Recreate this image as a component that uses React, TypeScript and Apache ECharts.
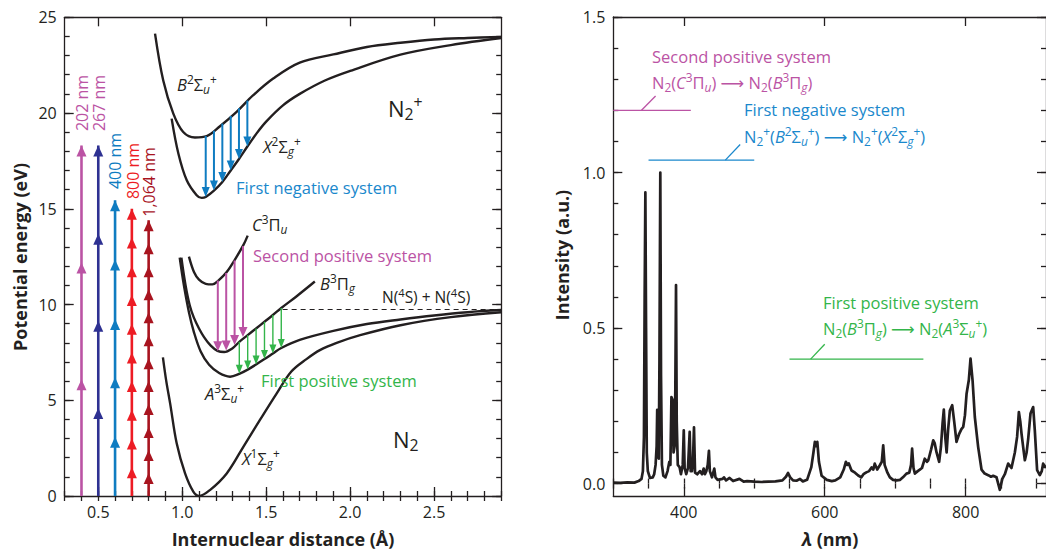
import React, { useEffect, useRef } from 'react';
import * as echarts from 'echarts';

// ---------------- style constants ----------------
const FONT = "'Open Sans', 'Noto Sans', 'DejaVu Sans', sans-serif";
const INK = '#231f20';
const MAG = '#bb53a4';
const NAVY = '#2e3192';
const BLUE = '#0f7cc1';
const TBLUE = '#1a88cc';
const RED = '#ed1c24';
const DRED = '#a8141f';
const GREEN = '#33b54a';

// ---------------- left panel: axes ----------------
const leftXMin = 0.3;
const leftXMax = 2.9;
const leftYMin = 0;
const leftYMax = 25;
const leftXTicks = [0.5, 1.0, 1.5, 2.0, 2.5];
const leftYTicks = [0, 5, 10, 15, 20, 25];

// ---------------- left panel: potential curves (r in Å, E in eV) ----------------
const n2X1_r = [0.885, 0.905, 0.928, 0.967, 1.017, 1.066, 1.1, 1.165, 1.265, 1.364, 1.463, 1.563, 1.65, 1.74, 1.82, 1.92, 2.06, 2.3, 2.6, 2.9];
const n2X1_E = [7.24, 6.0, 4.84, 2.75, 1.18, 0.23, 0.0, 0.31, 1.18, 2.57, 3.97, 5.36, 6.5, 7.15, 7.62, 8.0, 8.4, 8.92, 9.34, 9.6];

const n2A3_r = [0.985, 1.01, 1.04, 1.07, 1.11, 1.16, 1.22, 1.285, 1.34, 1.39, 1.44, 1.49, 1.54, 1.59, 1.7, 1.9, 2.1, 2.3, 2.5, 2.7, 2.9];
const n2A3_E = [12.45, 11.0, 9.6, 8.55, 7.55, 6.85, 6.42, 6.23, 6.38, 6.6, 6.87, 7.15, 7.44, 7.73, 8.15, 8.62, 8.98, 9.22, 9.43, 9.6, 9.71];

const n2B3_r = [0.995, 1.02, 1.045, 1.07, 1.1, 1.13, 1.17, 1.21, 1.25, 1.3, 1.34, 1.39, 1.44, 1.49, 1.54, 1.59, 1.68, 1.79];
const n2B3_E = [12.45, 11.0, 9.95, 9.3, 8.75, 8.3, 7.85, 7.58, 7.52, 7.72, 8.05, 8.4, 8.75, 9.1, 9.45, 9.82, 10.42, 11.2];

const n2C3_r = [1.04, 1.07, 1.1, 1.14, 1.18, 1.215, 1.265, 1.314, 1.364, 1.39];
const n2C3_E = [12.5, 11.7, 11.3, 11.08, 11.05, 11.25, 11.7, 12.35, 13.1, 13.6];

const ionX2_r = [0.937, 0.977, 1.027, 1.086, 1.116, 1.14, 1.189, 1.239, 1.289, 1.338, 1.388, 1.44, 1.5, 1.6, 1.7, 1.85, 2.0, 2.3, 2.6, 2.9];
const ionX2_E = [19.71, 17.89, 16.49, 15.71, 15.57, 15.62, 15.95, 16.4, 17.0, 17.6, 18.25, 18.9, 19.55, 20.4, 21.0, 21.7, 22.2, 23.05, 23.55, 23.92];

const ionB2_r = [0.838, 0.887, 0.947, 1.006, 1.076, 1.146, 1.225, 1.324, 1.423, 1.542, 1.7, 1.9, 2.1, 2.3, 2.5, 2.7, 2.9];
const ionB2_E = [24.15, 21.7, 19.97, 19.01, 18.72, 18.79, 19.31, 20.06, 20.93, 21.8, 22.63, 23.06, 23.45, 23.67, 23.84, 23.92, 23.98];

const dissociationE = 9.74;
const dissociationFrom = 1.598;

// ---------------- left panel: multiphoton ladders ----------------
const ladderX = [0.4, 0.5, 0.6, 0.7, 0.8];
const ladderNames = ['202 nm', '267 nm', '400 nm', '800 nm', '1,064 nm'];
const ladder202 = [6.1, 12.2, 18.3];
const ladder267 = [4.6, 9.15, 13.7, 18.3];
const ladder400 = [3.1, 6.2, 9.25, 12.35, 15.45];
const ladder800 = [1.5, 3.0, 4.5, 6.0, 7.5, 9.0, 10.5, 12.0, 13.5, 15.0];
const ladder1064 = [1.2, 2.4, 3.6, 4.8, 6.0, 7.2, 8.4, 9.6, 10.8, 12.0, 13.2, 14.4];

// ---------------- left panel: emission transitions ----------------
const fnsX = [1.14, 1.189, 1.239, 1.289, 1.338, 1.388];
const fnsFrom = [18.8, 19.08, 19.45, 19.85, 20.25, 20.65];
const fnsTo = [15.62, 15.95, 16.4, 17.0, 17.6, 18.25];

const spsX = [1.212, 1.262, 1.312, 1.362];
const spsFrom = [11.25, 11.65, 12.3, 13.05];
const spsTo = [7.56, 7.6, 7.88, 8.3];

const fpsX = [1.34, 1.39, 1.44, 1.49, 1.54, 1.59];
const fpsFrom = [8.05, 8.4, 8.75, 9.1, 9.45, 9.82];
const fpsTo = [6.38, 6.6, 6.87, 7.15, 7.44, 7.73];

// ---------------- right panel: axes ----------------
const rightXMin = 300;
const rightXMax = 914;
const rightYMin = -0.04;
const rightYMax = 1.5;
const rightXTicks = [400, 600, 800];
const rightYTicks = [0, 0.5, 1.0, 1.5];

// ---------------- right panel: emission spectrum ----------------
const spectrumNm = [
  300, 310, 320, 330, 336, 340, 342, 343.5, 344.5, 345.5, 346.5, 347.5, 349, 352, 356, 358, 360, 361.5, 362.3, 363.2,
  364.5, 365.5, 366.7, 367.7, 369, 371, 374, 377, 379.5, 381, 382.5, 384, 385.5, 387, 388, 389, 390, 391.5, 394, 396,
  398.5, 400, 401.2, 403.5, 406, 408.4, 409.8, 411.6, 413, 414.5, 416, 419, 423, 426, 428.2, 430, 432, 434, 435.7, 437,
  440, 443.3, 445, 448, 455, 457, 460, 465, 470, 479, 485, 490, 500, 510, 520, 530, 540, 545, 548, 551,
  555, 560, 565, 569, 575, 581, 584, 586, 588, 589.5, 591.8, 595.6, 603, 610, 615, 622, 627, 630, 632, 634,
  638, 643, 647.5, 652, 655, 659, 663, 666.5, 669, 671, 674.5, 678, 681, 683, 685, 689, 692.5, 697, 702, 707,
  711, 716, 720, 722.5, 724, 726, 728, 732, 735, 738, 742, 745, 747, 751, 754, 756, 758.7, 762.4, 765, 767.2,
  769, 771, 773, 775, 777.6, 780.9, 783.7, 787, 790.8, 794, 796.5, 799, 801.3, 804.5, 806.9, 809.8, 813, 817.7, 822.5, 827,
  832, 836, 839, 843.8, 848.5, 852, 855.6, 860.3, 865, 869.8, 873, 875.5, 877.5, 879.3, 882, 884, 886.5, 888.7, 892, 895.8,
  898.1, 901.4, 905.2, 908, 909.9, 914,
];
const spectrumI = [
  0.003, 0.002, 0.004, 0.003, 0.008, 0.015, 0.04, 0.15, 0.6, 0.936, 0.5, 0.1, 0.04, 0.018, 0.02, 0.03, 0.06, 0.12, 0.237, 0.1,
  0.08, 0.4, 1.0, 0.35, 0.06, 0.025, 0.02, 0.04, 0.07, 0.06, 0.278, 0.27, 0.1, 0.12, 0.3, 0.638, 0.2, 0.06, 0.053, 0.03,
  0.06, 0.171, 0.05, 0.03, 0.05, 0.166, 0.04, 0.04, 0.07, 0.181, 0.035, 0.03, 0.04, 0.03, 0.048, 0.03, 0.04, 0.06, 0.105, 0.04,
  0.02, 0.048, 0.02, 0.012, 0.015, 0.02, 0.01, 0.018, 0.008, 0.015, 0.006, 0.008, 0.006, 0.005, 0.006, 0.007, 0.01, 0.022, 0.034, 0.02,
  0.01, 0.009, 0.015, 0.007, 0.012, 0.053, 0.1, 0.134, 0.12, 0.134, 0.07, 0.025, 0.012, 0.008, 0.01, 0.02, 0.045, 0.07, 0.06, 0.065,
  0.042, 0.035, 0.026, 0.02, 0.03, 0.036, 0.04, 0.052, 0.045, 0.064, 0.045, 0.058, 0.07, 0.123, 0.06, 0.035, 0.02, 0.012, 0.01, 0.012,
  0.02, 0.032, 0.035, 0.06, 0.112, 0.05, 0.032, 0.04, 0.045, 0.05, 0.08, 0.07, 0.075, 0.11, 0.139, 0.13, 0.1, 0.07, 0.12, 0.193,
  0.238, 0.15, 0.1, 0.17, 0.235, 0.252, 0.2, 0.134, 0.16, 0.175, 0.182, 0.22, 0.289, 0.333, 0.402, 0.332, 0.214, 0.118, 0.045, 0.032,
  0.027, 0.022, 0.025, 0.02, -0.02, 0.015, 0.03, 0.064, 0.05, 0.1, 0.15, 0.23, 0.2, 0.16, 0.11, 0.075, 0.1, 0.143, 0.225, 0.246,
  0.172, 0.043, 0.027, 0.04, 0.064, 0.05,
];

// ---------------- right panel: band ranges (nm) ----------------
const bandNames = ['Second positive system', 'First negative system', 'First positive system'];
const bandStart = [300, 350, 550];
const bandEnd = [410, 500, 740];
const bandLevel = [1.2, 1.04, 0.4];
const leaderFrom = [340, 459, 580];
const leaderTo = [360, 480, 600];
const leaderTop = [1.246, 1.09, 0.448];

// ---------------- helpers ----------------
const steps = (a: number, b: number, s: number) => {
  const out: number[] = [];
  const n = Math.round((b - a) / s);
  for (let k = 0; k <= n; k++) out.push(Math.round((a + k * s) * 1000) / 1000);
  return out;
};
const zip = (xs: number[], ys: number[]) => xs.map((x, i) => [x, ys[i]]);

const tickStyle = { color: INK, width: 1.3 };

function axisSet(kind: 'x' | 'y', grid: number, min: number, max: number, major: number[], minor: number[], fmt: (v: number) => string) {
  const pos = kind === 'x' ? ['bottom', 'top'] : ['left', 'right'];
  const base: any = { type: 'value', gridIndex: grid, min, max, scale: true, splitLine: { show: false } };
  const line = { show: true, onZero: false, lineStyle: { color: INK, width: 1.3 } };
  const label = { show: true, customValues: major, formatter: fmt, margin: 8, fontSize: 16, color: INK, fontFamily: FONT };
  const majorTick = { show: true, inside: true, length: 9, customValues: major, lineStyle: tickStyle };
  const minorTick = { show: true, inside: true, length: 5, customValues: minor, lineStyle: tickStyle };
  return [
    { ...base, position: pos[0], axisLine: line, axisTick: majorTick, axisLabel: label },
    { ...base, position: pos[0], axisLine: { show: false }, axisTick: minorTick, axisLabel: { show: false } },
    { ...base, position: pos[1], axisLine: line, axisTick: majorTick, axisLabel: { show: false } },
    { ...base, position: pos[1], axisLine: { show: false }, axisTick: minorTick, axisLabel: { show: false } },
  ];
}

const shaftRender = (lw: number, shorten: number) => (params: any, api: any) => {
  const x = api.value(0);
  const p1 = api.coord([x, api.value(1)]);
  const p2 = api.coord([x, api.value(2)]);
  const dir = p2[1] > p1[1] ? 1 : -1;
  return {
    type: 'line',
    shape: { x1: p1[0], y1: p1[1], x2: p2[0], y2: p2[1] - dir * shorten },
    style: { stroke: api.visual('color'), lineWidth: lw },
  };
};
const headRender = (w: number, h: number) => (params: any, api: any) => {
  const p = api.coord([api.value(0), api.value(1)]);
  const d = api.value(2);
  return {
    type: 'polygon',
    shape: { points: [[p[0], p[1]], [p[0] - w / 2, p[1] + d * h], [p[0] + w / 2, p[1] + d * h]] },
    style: { fill: api.visual('color') },
  };
};
const segRender = (lw: number) => (params: any, api: any) => {
  const p1 = api.coord([api.value(0), api.value(1)]);
  const p2 = api.coord([api.value(2), api.value(3)]);
  return {
    type: 'line',
    shape: { x1: p1[0], y1: p1[1], x2: p2[0], y2: p2[1] },
    style: { stroke: api.visual('color'), lineWidth: lw },
  };
};

const curve = (r: number[], E: number[]) => ({
  type: 'line',
  xAxisIndex: 0,
  yAxisIndex: 0,
  data: zip(r, E),
  showSymbol: false,
  smooth: 0.35,
  lineStyle: { color: INK, width: 2.4 },
  z: 3,
});

const ladderSeries = (x: number, levels: number[], color: string) => [
  {
    type: 'custom',
    xAxisIndex: 0,
    yAxisIndex: 0,
    renderItem: shaftRender(2.6, 0),
    itemStyle: { color },
    encode: { x: 0, y: [1, 2] },
    data: [[x, 0, levels[levels.length - 1]]],
    z: 4,
  },
  {
    type: 'custom',
    xAxisIndex: 0,
    yAxisIndex: 0,
    renderItem: headRender(10, 11),
    itemStyle: { color },
    encode: { x: 0, y: 1 },
    data: levels.map((v) => [x, v, 1]),
    z: 5,
  },
];

const transitionSeries = (xs: number[], from: number[], to: number[], color: string, lw: number, hw: number, hh: number) => [
  {
    type: 'custom',
    xAxisIndex: 0,
    yAxisIndex: 0,
    renderItem: shaftRender(lw, hh - 2),
    itemStyle: { color },
    encode: { x: 0, y: [1, 2] },
    data: xs.map((x, i) => [x, from[i], to[i]]),
    z: 4,
  },
  {
    type: 'custom',
    xAxisIndex: 0,
    yAxisIndex: 0,
    renderItem: headRender(hw, hh),
    itemStyle: { color },
    encode: { x: 0, y: 1 },
    data: xs.map((x, i) => [x, to[i], -1]),
    z: 5,
  },
];

// rich text for spectroscopic terms
const fnt = (size: number, style = 'normal', weight = 'normal') => `${style} ${weight} ${size}px ${FONT}`;
const richStyles = (size: number, weight = 'normal') => {
  const s = Math.round(size * 0.72 * 10) / 10;
  const lh = size * 1.3;
  const slh = size * 0.78;
  return {
    n: { font: fnt(size, 'normal', weight), fontSize: size, fontFamily: FONT, fontWeight: weight, lineHeight: lh },
    i: { font: fnt(size, 'italic', weight), fontSize: size, fontFamily: FONT, fontStyle: 'italic', fontWeight: weight, lineHeight: lh },
    p: { font: fnt(s), fontSize: s, fontFamily: FONT, lineHeight: slh, verticalAlign: 'top' },
    b: { font: fnt(s), fontSize: s, fontFamily: FONT, lineHeight: slh, verticalAlign: 'bottom' },
    bi: { font: fnt(s, 'italic'), fontSize: s, fontFamily: FONT, fontStyle: 'italic', lineHeight: slh, verticalAlign: 'bottom' },
  };
};

const label = (x: number, y: number, text: string, size: number, color: string, extra: any = {}, align = 'left', weight = 'normal') => ({
  type: 'text',
  x,
  y,
  z: 10,
  style: {
    text,
    rich: richStyles(size, weight),
    fill: color,
    font: fnt(size, 'normal', weight),
    fontSize: size,
    fontFamily: FONT,
    fontWeight: weight,
    align,
    verticalAlign: 'middle',
  },
  ...extra,
});

const T_B2Su = '{i|B}{p|2}{n|Σ}{bi|u}{p|+}';
const T_X2Sg = '{i|X}{p|2}{n|Σ}{bi|g}{p|+}';
const T_C3Pu = '{i|C}{p|3}{n|Π}{bi|u}';
const T_B3Pg = '{i|B}{p|3}{n|Π}{bi|g}';
const T_A3Su = '{i|A}{p|3}{n|Σ}{bi|u}{p|+}';
const T_X1Sg = '{i|X}{p|1}{n|Σ}{bi|g}{p|+}';
const T_N2 = '{n|N}{b|2}';
const T_N2p = '{n|N}{b|2}{p|+}';
const ARROW = '{n| ⟶ }';

export default function App() {
  const ref = useRef<HTMLDivElement>(null);

  useEffect(() => {
    if (!ref.current) return;
    const chart = echarts.init(ref.current, null, { renderer: 'svg' });

    const xAxes = [
      ...axisSet('x', 0, leftXMin, leftXMax, leftXTicks, steps(0.3, 2.9, 0.1), (v) => v.toFixed(1)),
      ...axisSet('x', 1, rightXMin, rightXMax, rightXTicks, steps(300, 900, 50), (v) => String(Math.round(v))),
    ];
    const yAxes = [
      ...axisSet('y', 0, leftYMin, leftYMax, leftYTicks, steps(0, 25, 1), (v) => String(Math.round(v))),
      ...axisSet('y', 1, rightYMin, rightYMax, rightYTicks, steps(0, 1.5, 0.1), (v) => v.toFixed(1)),
    ];

    const ladderColors = [MAG, NAVY, BLUE, RED, DRED];
    const ladders = [ladder202, ladder267, ladder400, ladder800, ladder1064];
    const bandColors = [MAG, TBLUE, GREEN];

    const series: any[] = [
      curve(n2X1_r, n2X1_E),
      curve(n2A3_r, n2A3_E),
      curve(n2B3_r, n2B3_E),
      curve(n2C3_r, n2C3_E),
      curve(ionX2_r, ionX2_E),
      curve(ionB2_r, ionB2_E),
      {
        type: 'line',
        xAxisIndex: 0,
        yAxisIndex: 0,
        data: [[dissociationFrom, dissociationE], [leftXMax, dissociationE]],
        showSymbol: false,
        lineStyle: { color: INK, width: 1.2, type: [5, 4] },
        z: 2,
      },
      ...ladders.flatMap((lv, i) => ladderSeries(ladderX[i], lv, ladderColors[i])),
      ...transitionSeries(fnsX, fnsFrom, fnsTo, BLUE, 2, 8, 10),
      ...transitionSeries(spsX, spsFrom, spsTo, MAG, 2, 9, 10),
      ...transitionSeries(fpsX, fpsFrom, fpsTo, GREEN, 1.4, 7, 9),
      {
        type: 'line',
        xAxisIndex: 4,
        yAxisIndex: 4,
        data: zip(spectrumNm, spectrumI),
        showSymbol: false,
        lineStyle: { color: INK, width: 2.7, join: 'round' },
        z: 3,
      },
      ...bandNames.map((name, i) => ({
        type: 'custom',
        name,
        xAxisIndex: 4,
        yAxisIndex: 4,
        renderItem: segRender(1.3),
        itemStyle: { color: bandColors[i] },
        encode: { x: [0, 2], y: [1, 3] },
        data: [
          [bandStart[i], bandLevel[i], bandEnd[i], bandLevel[i]],
          [leaderFrom[i], bandLevel[i], leaderTo[i], leaderTop[i]],
        ],
        z: 4,
      })),
    ];

    const ladderLabelY = [103, 103, 161, 171, 182];
    const ladderLabelColors = [MAG, MAG, BLUE, RED, DRED];
    const ladderLabelPx = [81.7, 98.5, 115, 132.5, 149.3];

    const graphic: any[] = [
      // left panel term labels
      label(177, 84, T_B2Su, 16.5, INK),
      label(263, 146, T_X2Sg, 16.5, INK),
      label(388, 108, T_N2p, 22, INK),
      label(236, 187, '{n|First negative system}', 16.5, TBLUE),
      label(252, 224, T_C3Pu, 16.5, INK),
      label(253, 255, '{n|Second positive system}', 16.5, MAG),
      label(320, 283, T_B3Pg, 16.5, INK),
      label(382, 297, '{n|N(}{p|4}{n|S) + N(}{p|4}{n|S)}', 15.5, INK),
      label(261, 380, '{n|First positive system}', 16.5, GREEN),
      label(205, 393, T_A3Su, 16.5, INK),
      label(242, 458, T_X1Sg, 16.5, INK),
      label(393, 439, T_N2, 22, INK),
      // ladder wavelength labels
      ...ladderNames.map((nm, i) =>
        label(ladderLabelPx[i], ladderLabelY[i], `{n|${nm}}`, 16, ladderLabelColors[i], { rotation: Math.PI / 2 }, 'center'),
      ),
      // axis titles
      label(20, 257, '{n|Potential energy (eV)}', 18, INK, { rotation: Math.PI / 2 }, 'center', 'bold'),
      label(283, 539, '{n|Internuclear distance (Å)}', 18, INK, {}, 'center', 'bold'),
      label(562, 255, '{n|Intensity (a.u.)}', 18, INK, { rotation: Math.PI / 2 }, 'center', 'bold'),
      label(830, 539, '{i|λ}{n| (nm)}', 18, INK, {}, 'center', 'bold'),
      // right panel annotations
      label(652, 56, '{n|Second positive system}', 16.5, MAG),
      label(652, 82, `${T_N2}{n|(}${T_C3Pu}{n|)}${ARROW}${T_N2}{n|(}${T_B3Pg}{n|)}`, 16.5, MAG),
      label(744, 109, '{n|First negative system}', 16.5, TBLUE),
      label(744, 136, `${T_N2p}{n|(}${T_B2Su}{n|)}${ARROW}${T_N2p}{n|(}${T_X2Sg}{n|)}`, 16.5, TBLUE),
      label(823, 302, '{n|First positive system}', 16.5, GREEN),
      label(823, 328, `${T_N2}{n|(}${T_B3Pg}{n|)}${ARROW}${T_N2}{n|(}${T_A3Su}{n|)}`, 16.5, GREEN),
    ];

    chart.setOption({
      animation: false,
      backgroundColor: '#ffffff',
      grid: [
        { left: 64.7, top: 17.3, width: 436.5, height: 478.7, containLabel: false },
        { left: 613.3, top: 17, width: 432.7, height: 479, containLabel: false },
      ],
      xAxis: xAxes,
      yAxis: yAxes,
      series,
      graphic,
    });

    return () => chart.dispose();
  }, []);

  return <div ref={ref} style={{ position: 'fixed', left: 0, top: 0, width: 1046, height: 550 }} />;
}
